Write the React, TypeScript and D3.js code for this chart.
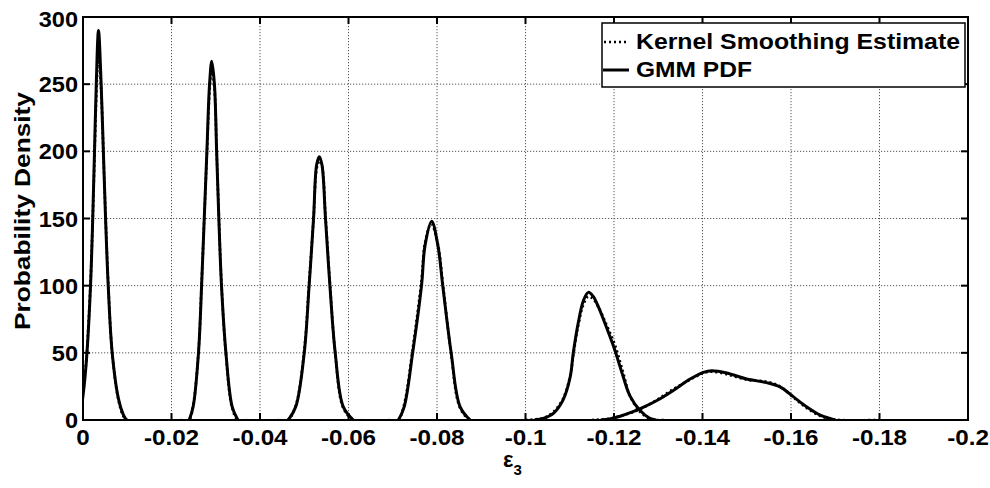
import React from "react";
import * as d3 from "d3";

type Pt = [number, number];

// x tick values / labels
const xTicks = [0, -0.02, -0.04, -0.06, -0.08, -0.1, -0.12, -0.14, -0.16, -0.18, -0.2];
const xTickLabels = ["0", "-0.02", "-0.04", "-0.06", "-0.08", "-0.1", "-0.12", "-0.14", "-0.16", "-0.18", "-0.2"];
const yTicks = [0, 50, 100, 150, 200, 250, 300];
const yTickLabels = ["0", "50", "100", "150", "200", "250", "300"];

// GMM PDF components (solid)
const gmm1: Pt[] = [[0.0004, 8], [0, 18], [-0.0004, 30], [-0.0009, 50], [-0.0017, 100], [-0.0022, 150], [-0.0026, 200], [-0.003, 250], [-0.0035, 290], [-0.0041, 250], [-0.0046, 200], [-0.0051, 150], [-0.0057, 100], [-0.0066, 50], [-0.008, 16], [-0.0091, 4], [-0.0098, 0]];
const gmm2: Pt[] = [[-0.024, 0], [-0.0249, 10], [-0.0261, 50], [-0.0268, 100], [-0.0274, 150], [-0.028, 200], [-0.0286, 250], [-0.0291, 267], [-0.0297, 250], [-0.0302, 200], [-0.0307, 150], [-0.0313, 100], [-0.0323, 50], [-0.0337, 10], [-0.035, 0]];
const gmm3: Pt[] = [[-0.0464, 0], [-0.0481, 10], [-0.05, 50], [-0.0511, 100], [-0.0521, 150], [-0.0528, 190], [-0.0534, 196], [-0.054, 190], [-0.0548, 150], [-0.0558, 100], [-0.057, 50], [-0.0588, 10], [-0.0611, 0]];
const gmm4: Pt[] = [[-0.0713, 0], [-0.0726, 10], [-0.0745, 50], [-0.0765, 100], [-0.0773, 130], [-0.0788, 148], [-0.0802, 130], [-0.0813, 100], [-0.0832, 50], [-0.0852, 10], [-0.0875, 0]];
const gmm5: Pt[] = [[-0.102, 0], [-0.104, 1.2], [-0.1063, 5], [-0.1085, 15], [-0.1101, 32], [-0.1108, 50], [-0.1119, 72], [-0.1131, 89], [-0.1142, 95], [-0.1153, 92], [-0.1165, 84], [-0.1183, 69], [-0.1202, 52], [-0.1221, 32], [-0.1236, 18], [-0.1259, 7], [-0.1281, 1.2], [-0.1295, 0]];
const gmm6: Pt[] = [[-0.117, 0], [-0.119, 0.8], [-0.1214, 2.8], [-0.124, 5.8], [-0.1262, 8.8], [-0.1297, 14.5], [-0.1334, 22], [-0.1372, 30.5], [-0.1402, 35.5], [-0.1421, 36.7], [-0.1455, 35], [-0.15, 30.5], [-0.1545, 27.8], [-0.1575, 24.6], [-0.1605, 17.4], [-0.1635, 9.9], [-0.1666, 3.7], [-0.1688, 1.2], [-0.17, 0]];

// Kernel smoothing estimate (dotted)
const ks1: Pt[] = [[0.0004, 10], [0, 20], [-0.0004, 32], [-0.0009, 52], [-0.0017, 102], [-0.0022, 150], [-0.0026, 196], [-0.003, 240], [-0.0035, 272], [-0.0041, 246], [-0.0046, 200], [-0.0051, 152], [-0.0057, 102], [-0.0066, 50], [-0.008, 15], [-0.0091, 3], [-0.01, 0], [-0.012, 0]];
const ks2: Pt[] = [[-0.022, 0], [-0.024, 0.5], [-0.0249, 11], [-0.0261, 51], [-0.0268, 101], [-0.0274, 150], [-0.028, 198], [-0.0286, 244], [-0.0291, 261], [-0.0297, 247], [-0.0302, 201], [-0.0307, 152], [-0.0313, 101], [-0.0323, 49], [-0.0337, 9], [-0.035, 0], [-0.037, 0]];
const ks3: Pt[] = [[-0.044, 0], [-0.0464, 0.5], [-0.0481, 11], [-0.05, 52], [-0.0511, 102], [-0.0521, 150], [-0.0528, 187], [-0.0534, 193], [-0.054, 189], [-0.0548, 152], [-0.0558, 102], [-0.057, 50], [-0.0588, 9], [-0.0611, 0], [-0.063, 0]];
const ks4: Pt[] = [[-0.069, 0], [-0.0713, 0.5], [-0.0726, 12], [-0.0745, 53], [-0.0765, 104], [-0.0773, 132], [-0.0787, 146], [-0.0802, 131], [-0.0813, 102], [-0.0832, 49], [-0.0852, 9], [-0.0875, 0], [-0.09, 0]];
const ks5: Pt[] = [[-0.1, 0], [-0.104, 1.5], [-0.1063, 6], [-0.1085, 16], [-0.1101, 33], [-0.1108, 48], [-0.1119, 70], [-0.1131, 86], [-0.1142, 92], [-0.1153, 90], [-0.1165, 84], [-0.1183, 71], [-0.1202, 56], [-0.1221, 35], [-0.1236, 18], [-0.1259, 6], [-0.1281, 1], [-0.1295, 0], [-0.132, 0]];
const ks6: Pt[] = [[-0.115, 0], [-0.119, 1], [-0.1214, 3], [-0.124, 5.5], [-0.1262, 8.5], [-0.1297, 15], [-0.1334, 23], [-0.1372, 30], [-0.1402, 35], [-0.1421, 36], [-0.1455, 34], [-0.15, 30], [-0.1545, 28.5], [-0.1575, 25], [-0.1605, 17], [-0.1635, 9], [-0.1666, 3], [-0.1688, 1], [-0.171, 0], [-0.18, 0]];

const gmmSeries = [gmm1, gmm2, gmm3, gmm4, gmm5, gmm6];
const ksSeries = [ks1, ks2, ks3, ks4, ks5, ks6];

const W = 990;
const H = 488;
const left = 83;
const right = 968;
const top = 17;
const bottom = 420;

const FONT = "'Liberation Sans', Arial, Helvetica, sans-serif";

export default function App() {
  const x = d3.scaleLinear().domain([0, -0.2]).range([left, right]);
  const y = d3.scaleLinear().domain([0, 300]).range([bottom, top]);
  const line = d3
    .line<Pt>()
    .x((d) => x(d[0]))
    .y((d) => y(d[1]))
    .curve(d3.curveCatmullRom.alpha(0.5));

  const tickLen = 7;

  return (
    <svg
      width={W}
      height={H}
      viewBox={`0 0 ${W} ${H}`}
      style={{ position: "absolute", left: 0, top: 0, display: "block", background: "#fff" }}
    >
      <defs>
        <clipPath id="plotclip">
          <rect x={left} y={top} width={right - left} height={bottom - top} />
        </clipPath>
      </defs>
      <rect x={0} y={0} width={W} height={H} fill="#fff" />

      {/* grid */}
      <g stroke="#444" strokeWidth={0.9} strokeDasharray="1.2 1.8">
        {xTicks.slice(1, -1).map((t, i) => (
          <line key={"gx" + i} x1={x(t)} x2={x(t)} y1={top} y2={bottom} />
        ))}
        {yTicks.slice(1, -1).map((t, i) => (
          <line key={"gy" + i} x1={left} x2={right} y1={y(t)} y2={y(t)} />
        ))}
      </g>

      {/* curves */}
      <g clipPath="url(#plotclip)" fill="none">
        {ksSeries.map((s, i) => (
          <path key={"ks" + i} d={line(s) || ""} stroke="#000" strokeWidth={2.6} strokeDasharray="2 3" />
        ))}
        {gmmSeries.map((s, i) => (
          <path key={"g" + i} d={line(s) || ""} stroke="#000" strokeWidth={3} strokeLinejoin="round" />
        ))}
      </g>

      {/* axes box */}
      <rect x={left} y={top} width={right - left} height={bottom - top} fill="none" stroke="#000" strokeWidth={2} />
      <g stroke="#000" strokeWidth={2}>
        {xTicks.map((t, i) => (
          <g key={"tx" + i}>
            <line x1={x(t)} x2={x(t)} y1={bottom} y2={bottom - tickLen} />
            <line x1={x(t)} x2={x(t)} y1={top} y2={top + tickLen} />
          </g>
        ))}
        {yTicks.map((t, i) => (
          <g key={"ty" + i}>
            <line x1={left} x2={left + tickLen} y1={y(t)} y2={y(t)} />
            <line x1={right} x2={right - tickLen} y1={y(t)} y2={y(t)} />
          </g>
        ))}
      </g>

      {/* tick labels */}
      <g fontFamily={FONT} fontWeight="bold" fontSize={22} fill="#000">
        {xTicks.map((t, i) => (
          <text
            key={"lx" + i}
            transform={`translate(${x(t)},${445}) scale(1.1,1)`}
            textAnchor="middle"
          >
            {xTickLabels[i]}
          </text>
        ))}
        {yTicks.map((t, i) => (
          <text
            key={"ly" + i}
            transform={`translate(${left - 5},${y(t) + (i === yTicks.length - 1 ? 10 : 8)}) scale(1.07,1)`}
            textAnchor="end"
          >
            {yTickLabels[i]}
          </text>
        ))}
      </g>

      {/* axis titles */}
      <g fontFamily={FONT} fontWeight="bold" fill="#000">
        <text
          transform={`translate(30,${211}) rotate(-90)`}
          textAnchor="middle"
          fontSize={22}
          textLength={238}
          lengthAdjust="spacingAndGlyphs"
        >
          Probability Density
        </text>
        <text x={503} y={467} fontSize={22}>
          ε
          <tspan fontSize={15} dy={8}>
            3
          </tspan>
        </text>
      </g>

      {/* legend */}
      <g>
        <rect x={602} y={23} width={363} height={64} fill="#fff" stroke="#000" strokeWidth={1.5} />
        <line x1={604} x2={629} y1={42} y2={42} stroke="#000" strokeWidth={2.6} strokeDasharray="2 3" />
        <line x1={603} x2={629} y1={70} y2={70} stroke="#000" strokeWidth={3} />
        <g fontFamily={FONT} fontWeight="bold" fontSize={22} fill="#000">
          <text x={636} y={49} textLength={324} lengthAdjust="spacingAndGlyphs">
            Kernel Smoothing Estimate
          </text>
          <text x={636} y={77} textLength={116} lengthAdjust="spacingAndGlyphs">
            GMM PDF
          </text>
        </g>
      </g>
    </svg>
  );
}
